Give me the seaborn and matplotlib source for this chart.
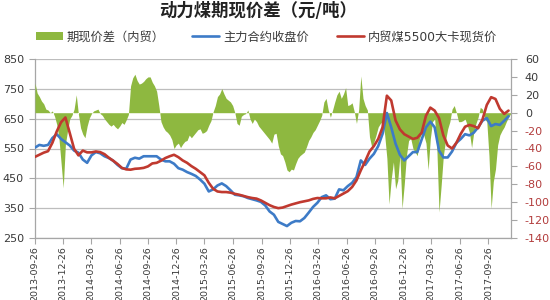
import numpy as np
import pandas as pd
import matplotlib
matplotlib.use("Agg")
import matplotlib.pyplot as plt
import seaborn as sns
from matplotlib.patches import Patch
from matplotlib.lines import Line2D

# ---------------- data ----------------
title = "动力煤期现价差（元/吨）"
name_spread = "期现价差（内贸）"
name_futures = "主力合约收盘价"
name_spot = "内贸煤5500大卡现货价"
start_date = "2013-09-26"

tick_labels = ["2013-09-26", "2013-12-26", "2014-03-26", "2014-06-26", "2014-09-26",
               "2014-12-26", "2015-03-26", "2015-06-26", "2015-09-26", "2015-12-26",
               "2016-03-26", "2016-06-26", "2016-09-26", "2016-12-26", "2017-03-26",
               "2017-06-26", "2017-09-26"]
left_ticks = [250, 350, 450, 550, 650, 750, 850]
right_ticks = [-140, -120, -100, -80, -60, -40, -20, 0, 20, 40, 60]

# biweekly samples (left axis, yuan/t)
futures_close = [
    553, 562, 559, 562, 585, 598, 582, 571, 560, 543,
    536, 513, 502, 527, 538, 534, 524, 518, 509, 495,
    484, 482, 513, 519, 516, 524, 524, 524, 524, 513,
    507, 507, 499, 484, 479, 471, 465, 458, 446, 432,
    406, 413, 426, 433, 424, 410, 395, 393, 390, 384,
    380, 376, 371, 359, 339, 328, 304, 297, 290, 301,
    307, 306, 317, 335, 354, 368, 387, 393, 380, 382,
    413, 410, 424, 435, 454, 510, 495, 516, 532, 558,
    599, 669, 621, 566, 529, 510, 524, 538, 538, 580,
    621, 640, 621, 543, 520, 520, 540, 569, 582, 598,
    594, 603, 621, 643, 652, 625, 632, 629, 643, 658,
]
spot_price = [
    522, 529, 536, 541, 569, 607, 638, 654, 602, 549,
    527, 543, 537, 537, 540, 538, 531, 519, 509, 498,
    485, 480, 479, 482, 483, 485, 490, 500, 502, 509,
    518, 524, 529, 521, 510, 502, 491, 482, 471, 460,
    435, 415, 406, 404, 404, 402, 398, 395, 391, 387,
    384, 382, 376, 368, 360, 354, 350, 352, 357, 362,
    366, 370, 373, 376, 381, 384, 383, 383, 386, 383,
    391, 399, 407, 421, 443, 477, 507, 540, 558, 582,
    621, 727, 711, 644, 614, 598, 590, 582, 586, 603,
    660, 687, 677, 652, 594, 560, 550, 569, 599, 623,
    629, 625, 618, 647, 696, 722, 716, 683, 666, 677,
]
# weekly samples (right axis)
spread = [
    33, 22, 18, 13, 10, 4, 3, 0, 2, -4,
    -13, -28, -56, -84, -35, -20, -7, -3, 4, 20,
    -2, -17, -24, -28, -15, -6, -1, 2, 3, 4,
    -1, -3, -7, -10, -13, -15, -13, -16, -18, -15,
    -11, -13, -8, -2, 30, 39, 43, 36, 32, 33,
    35, 38, 40, 40, 34, 30, 24, 8, -10, -16,
    -20, -22, -25, -30, -40, -36, -34, -39, -35, -32,
    -31, -25, -28, -25, -22, -19, -18, -23, -22, -20,
    -14, -9, 1, 8, 18, 21, 27, 21, 16, 14,
    12, 8, 0, -12, -14, -4, -2, -1, 3, -7,
    -12, -7, -10, -15, -18, -21, -24, -27, -30, -34,
    -24, -23, -37, -46, -48, -55, -64, -66, -63, -64,
    -57, -51, -48, -46, -44, -38, -31, -27, -22, -19,
    -14, -9, -3, 12, 16, 3, -5, 3, 12, 20,
    24, 16, 21, 28, 8, 9, 11, 1, -12, 3,
    41, 16, 8, 3, -27, -38, -33, -25, -16, -12,
    -10, -25, -51, -102, -74, -55, -85, -76, -48, -107,
    -80, -48, -31, -29, -40, -44, -48, -29, -23, -25,
    -34, -64, -29, -10, -7, -40, -111, -81, -48, -31,
    -18, -10, 4, 8, 0, -10, -10, -9, -7, -14,
    -22, -39, -22, -12, -5, 6, 4, -7, -10, -48,
    -107, -77, -63, -36, -25, -20, -16, -10, -5, -1,
]

# ---------------- style ----------------
sns.set_theme(style="white")
plt.rcParams["font.family"] = ["DejaVu Sans", "Noto Sans CJK SC"]
plt.rcParams["axes.unicode_minus"] = False

green = "#8EB840"
blue = "#3D7BC7"
red = "#C0392F"
grid_c = "#BDBDBD"
spine_c = "#A6A6A6"
text_c = "#3A3A3A"
neg_c = "#B23C3C"

line_dates = pd.date_range(start_date, periods=len(futures_close), freq="14D")
spread_dates = pd.date_range(start_date, periods=len(spread), freq="7D")
n = len(line_dates)
lines_df = pd.DataFrame({
    "date": list(line_dates) + list(line_dates),
    "price": futures_close + spot_price,
    "series": [name_futures] * n + [name_spot] * n,
})
spread_df = pd.DataFrame({"date": spread_dates, "spread": spread})

fig = plt.figure(figsize=(5.5, 3.0), dpi=100)
ax = fig.add_axes([35 / 550, 1 - 238 / 300, (511 - 35) / 550, (238 - 59) / 300])
axg = ax.twinx()
axl = ax.twinx()
ax.set_zorder(0)
axg.set_zorder(1)
axl.set_zorder(2)
axg.patch.set_visible(False)
axl.patch.set_visible(False)

# spread area (right axis)
axg.fill_between(spread_df["date"], spread_df["spread"], 0, color=green, lw=0)

# price lines (left scale)
sns.lineplot(data=lines_df, x="date", y="price", hue="series",
             palette={name_futures: blue, name_spot: red},
             hue_order=[name_futures, name_spot],
             linewidth=1.9, legend=False, ax=axl)

# axes limits / ticks
x0 = pd.Timestamp(start_date)
x1 = spread_dates[-1] + pd.Timedelta(days=1)
ax.set_xlim(x0, x1)
for a in (ax, axl):
    a.set_ylim(250, 850)
axg.set_ylim(-140, 60)

ax.set_yticks(left_ticks)
ax.set_yticklabels([str(v) for v in left_ticks])
ax.yaxis.grid(True, color=grid_c, lw=0.9)
ax.xaxis.grid(False)
ax.set_xticks(pd.to_datetime(tick_labels))
ax.set_xticklabels(tick_labels, rotation=90)

axg.set_yticks(right_ticks)
axg.set_yticklabels([str(v) for v in right_ticks])
for lbl, v in zip(axg.get_yticklabels(), right_ticks):
    lbl.set_color(neg_c if v < 0 else text_c)

axl.yaxis.set_visible(False)
for a in (ax, axg, axl):
    a.set_xlabel("")
    a.set_ylabel("")

for s in ["top", "right"]:
    ax.spines[s].set_visible(False)
for s in ["left", "bottom"]:
    ax.spines[s].set_color(spine_c)
    ax.spines[s].set_linewidth(0.9)
for s in ["top", "left", "bottom"]:
    axg.spines[s].set_visible(False)
axg.spines["right"].set_color(spine_c)
axg.spines["right"].set_linewidth(0.9)
for s in axl.spines.values():
    s.set_visible(False)

ax.tick_params(axis="y", which="both", left=True, length=4, width=0.8, color=spine_c,
               labelsize=8, labelcolor=text_c, pad=4)
ax.tick_params(axis="x", which="both", bottom=True, length=4, width=0.8, color=spine_c,
               labelsize=6.8, labelcolor=text_c, pad=2)
axg.tick_params(axis="y", which="both", right=True, length=4, width=0.8, color=spine_c,
                labelsize=8, pad=6)

# title and legend
fig.text(0.47, 0.962, title, ha="center", va="center", fontsize=12.5,
         fontweight="bold", color="#222222", family=["Noto Sans CJK SC", "DejaVu Sans"])
handles = [Patch(facecolor=green, edgecolor="none"),
           Line2D([0], [0], color=blue, lw=1.9),
           Line2D([0], [0], color=red, lw=1.9)]
fig.legend(handles, [name_spread, name_futures, name_spot], loc="center",
           bbox_to_anchor=(0.484, 0.877), ncol=3, frameon=False, fontsize=8.8,
           handlelength=2.2, handletextpad=0.3, columnspacing=2.3,
           labelcolor=text_c, prop={"family": ["DejaVu Sans", "Noto Sans CJK SC"], "size": 8.8})

fig.savefig("out.png", dpi=100)
